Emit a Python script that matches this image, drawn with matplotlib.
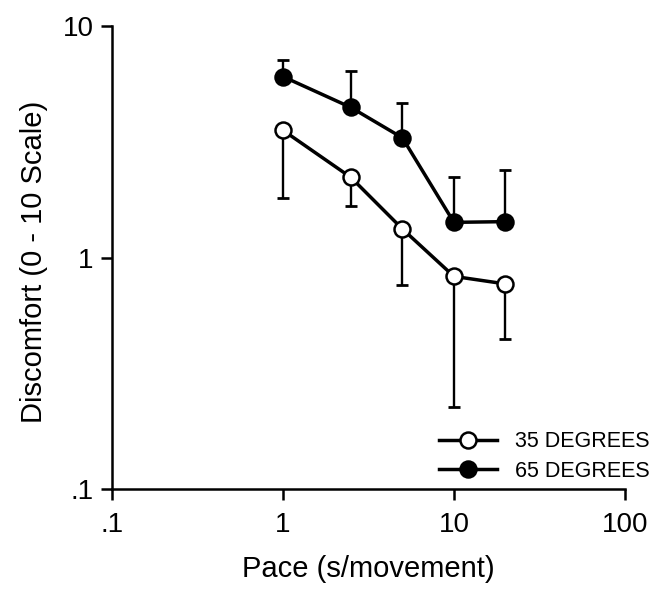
import matplotlib
matplotlib.use("Agg")
import matplotlib.pyplot as plt
import numpy as np

plt.rcParams['font.family'] = ['Liberation Sans', 'DejaVu Sans']

# Data
pace = [1, 2.5, 5, 10, 20]
d35 = [3.55, 2.22, 1.33, 0.83, 0.77]
d35_lower = [1.80, 1.67, 0.76, 0.226, 0.445]
d65 = [6.05, 4.45, 3.29, 1.42, 1.43]
d65_upper = [7.14, 6.40, 4.65, 2.23, 2.38]
labels = ["35 DEGREES", "65 DEGREES"]
xticks = [0.1, 1, 10, 100]
xticklabels = [".1", "1", "10", "100"]
yticks = [0.1, 1, 10]
yticklabels = [".1", "1", "10"]

fig = plt.figure(figsize=(6.52, 5.89), dpi=100)
ax = fig.add_axes([0.1713, 0.1693, 0.7873, 0.7866])

err35 = [np.array(d35) - np.array(d35_lower), np.zeros(len(d35))]
err65 = [np.zeros(len(d65)), np.array(d65_upper) - np.array(d65)]

ax.errorbar(pace, d35, yerr=err35, fmt='none', ecolor='black', elinewidth=1.7,
            capsize=4.3, capthick=2.0, zorder=2)
ax.errorbar(pace, d65, yerr=err65, fmt='none', ecolor='black', elinewidth=1.7,
            capsize=4.3, capthick=2.0, zorder=2)

l35, = ax.plot(pace, d35, '-o', color='black', lw=2.5, markersize=11.5,
               markerfacecolor='white', markeredgecolor='black', markeredgewidth=1.8,
               zorder=3, label=labels[0])
l65, = ax.plot(pace, d65, '-o', color='black', lw=2.5, markersize=11.5,
               markerfacecolor='black', markeredgecolor='black', markeredgewidth=1.8,
               zorder=3, label=labels[1])

ax.set_xscale('log')
ax.set_yscale('log')
ax.set_xlim(0.1, 100)
ax.set_ylim(0.1, 10)
ax.set_xticks(xticks, xticklabels)
ax.set_yticks(yticks, yticklabels)
ax.minorticks_off()

for s in ['top', 'right']:
    ax.spines[s].set_visible(False)
for s in ['left', 'bottom']:
    ax.spines[s].set_linewidth(1.8)

ax.tick_params(axis='both', which='major', direction='out', length=8, width=1.8,
               labelsize=20, colors='black')
ax.tick_params(axis='x', pad=8)
ax.tick_params(axis='y', pad=5)

ax.set_xlabel("Pace (s/movement)", fontsize=21)
ax.set_ylabel("Discomfort (0 - 10 Scale)", fontsize=21)
ax.xaxis.set_label_coords(0.5, -0.171)
ax.yaxis.set_label_coords(-0.151, 0.49)
ax.xaxis.label.set_verticalalignment('center')
ax.yaxis.label.set_verticalalignment('center')

leg = ax.legend(handles=[l35, l65], loc='lower right',
                bbox_to_anchor=(650 / 652, 1 - 482 / 589),
                bbox_transform=fig.transFigure, frameon=False, fontsize=15.5,
                handlelength=2.7, handletextpad=0.85, labelspacing=0.4,
                borderpad=0, borderaxespad=0, numpoints=1)

fig.savefig("out.png", dpi=100)
